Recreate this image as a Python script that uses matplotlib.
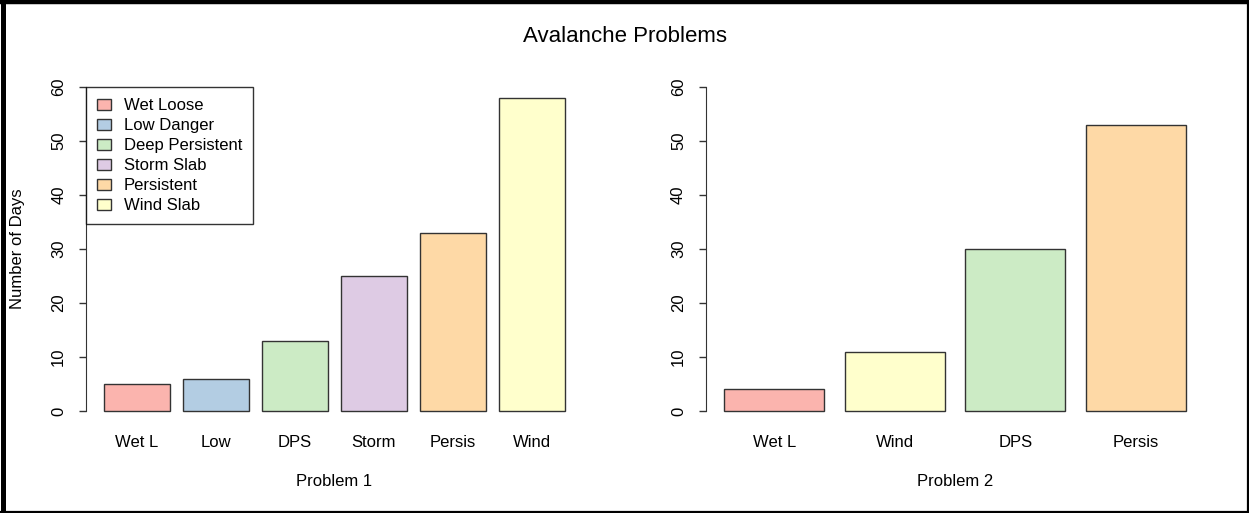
import matplotlib.pyplot as plt
from matplotlib.patches import Patch
from matplotlib.lines import Line2D

plt.rcParams["font.family"] = ["Liberation Sans", "DejaVu Sans"]

# Problem 1
p1_labels = ["Wet L", "Low", "DPS", "Storm", "Persis", "Wind"]
p1_days = [5, 6, 13, 25, 33, 58]
# Problem 2
p2_labels = ["Wet L", "Wind", "DPS", "Persis"]
p2_days = [4, 11, 30, 53]

legend_names = ["Wet Loose", "Low Danger", "Deep Persistent",
                "Storm Slab", "Persistent", "Wind Slab"]
pastel = {"Wet L": "#FBB4AE", "Low": "#B3CDE3", "DPS": "#CCEBC5",
          "Storm": "#DECBE4", "Persis": "#FED9A6", "Wind": "#FFFFCC"}

W, H = 1249, 513
fig = plt.figure(figsize=(W / 100, H / 100), dpi=100)

def px_axes(x0, x1, y_top, y_bot):
    return fig.add_axes([x0 / W, (H - y_bot) / H, (x1 - x0) / W, (y_bot - y_top) / H])

def barplot(ax, labels, vals):
    n = len(labels)
    centers = [0.7 + 1.2 * i for i in range(n)]
    ax.bar(centers, vals, width=1.0, color=[pastel[l] for l in labels],
           edgecolor="#333333", linewidth=1.0)
    ext = 0.04 * (1.2 * n - 0.2)
    ax.set_xlim(0.2 - ext, 1.2 * n + ext)
    ax.set_ylim(-2.4, 60)
    for s in ["top", "right", "bottom"]:
        ax.spines[s].set_visible(False)
    ax.spines["left"].set_bounds(0, 60)
    ax.spines["left"].set_color("#333333")
    ax.set_yticks(range(0, 61, 10))
    ax.tick_params(axis="y", length=5, width=1, color="#333333", pad=9, labelsize=12)
    for t in ax.get_yticklabels():
        t.set_rotation(90)
        t.set_va("center")
    ax.set_xticks(centers)
    ax.set_xticklabels(labels)
    ax.tick_params(axis="x", length=0, pad=8, labelsize=12)

ax1 = px_axes(85.6, 583, 87, 424)
barplot(ax1, p1_labels, p1_days)
ax2 = px_axes(705.5, 1204.5, 87, 424)
barplot(ax2, p2_labels, p2_days)

handles = [Patch(facecolor=pastel[l], edgecolor="#333333", linewidth=1) for l in p1_labels]
leg = ax1.legend(handles, legend_names, loc="upper left", bbox_to_anchor=(0.001, 1.0),
                 borderaxespad=0, fancybox=False, frameon=True, fontsize=12,
                 handlelength=0.8, handleheight=0.6, handletextpad=0.8,
                 labelspacing=0.3, borderpad=0.67)
leg.get_frame().set_edgecolor("black")
leg.get_frame().set_linewidth(1)

fig.text(625 / W, 1 - 36 / H, "Avalanche Problems", ha="center", va="center", fontsize=16)
fig.text(334 / W, 1 - 481 / H, "Problem 1", ha="center", va="center", fontsize=12)
fig.text(955 / W, 1 - 481 / H, "Problem 2", ha="center", va="center", fontsize=12)
fig.text(18 / W, 1 - 249 / H, "Number of Days", ha="center", va="center",
         rotation=90, fontsize=12)

# outer frame
fig.add_artist(Line2D([0, 1], [1 - 2 / H, 1 - 2 / H], color="black", lw=3.2))
fig.add_artist(Line2D([2.5 / W, 2.5 / W], [0, 1], color="black", lw=3.6))
fig.add_artist(Line2D([0, 1], [1.2 / H, 1.2 / H], color="black", lw=1.6))
fig.add_artist(Line2D([1 - 1.5 / W, 1 - 1.5 / W], [0, 1], color="black", lw=1.6))

fig.savefig("out.png", dpi=100)
